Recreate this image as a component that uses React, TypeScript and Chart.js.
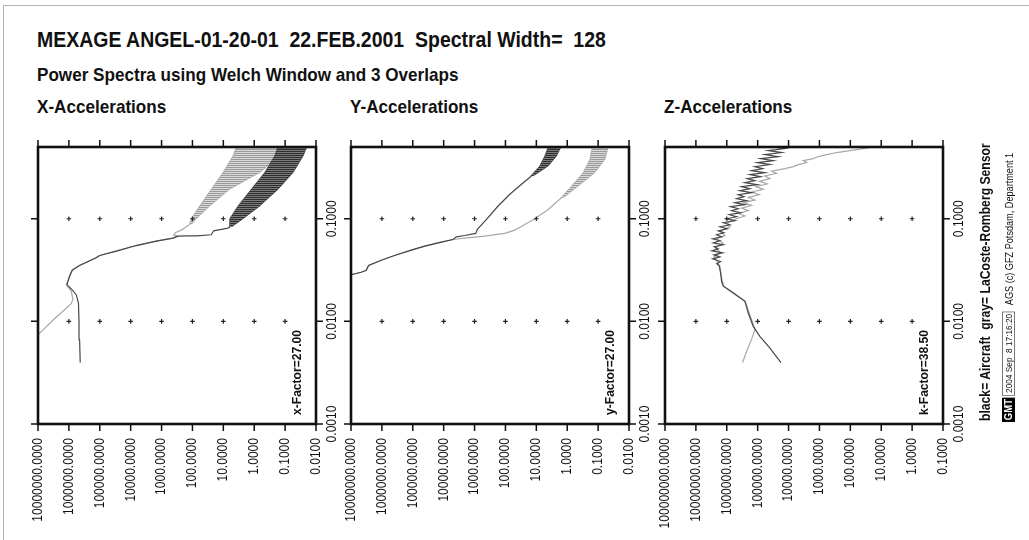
import React, { useEffect, useRef } from 'react';
import { Chart, registerables } from 'chart.js';

Chart.register(...registerables);

const FONT = '"Liberation Sans", Arial, Helvetica, sans-serif';

// ---------- texts ----------
const TITLE = 'MEXAGE ANGEL-01-20-01  22.FEB.2001  Spectral Width=  128';
const SUBTITLE = 'Power Spectra using Welch Window and 3 Overlaps';
const PANEL_TITLES = ['X-Accelerations', 'Y-Accelerations', 'Z-Accelerations'];
const FACTOR_LABELS = ['x-Factor=27.00', 'y-Factor=27.00', 'k-Factor=38.50'];
const LEGEND_NOTE = 'black= Aircraft  gray= LaCoste-Romberg Sensor';
const STAMP_LOGO = 'GMT';
const STAMP_DATE = '2004 Sep  8 17:16:20';
const STAMP_CREDIT = 'AGS (c) GFZ Potsdam, Department 1';

// ---------- axes ----------
const FREQ_MIN = 0.001;
const FREQ_MAX = 0.5;
const FREQ_TICKS = [0.001, 0.01, 0.1];
const FREQ_DOTS = [0.01, 0.1];
const POWER_TICKS_XY = [1e7, 1e6, 1e5, 1e4, 1e3, 100, 10, 1, 0.1, 0.01];
const POWER_TICKS_Z = [1e8, 1e7, 1e6, 1e5, 1e4, 1e3, 100, 10, 1, 0.1];

// ---------- X-Accelerations ----------
const X_BLACK_FREQ = [0.00397, 0.00662, 0.0100, 0.0151, 0.0182, 0.0207, 0.0228, 0.0275, 0.0315, 0.035, 0.0416, 0.0438, 0.0483, 0.0548, 0.0605, 0.0647, 0.0677, 0.0680, 0.0682, 0.0698, 0.0763, 0.0787, 0.0811, 0.0835];
const X_BLACK_POWER = [4.3e5, 4.5e5, 4.7e5, 4.9e5, 5.8e5, 8.4e5, 1.16e6, 9.5e5, 7.8e5, 4.5e5, 1.3e5, 1.01e5, 2.9e4, 6600, 1480, 428, 294, 158, 75, 24.5, 20.6, 11.6, 7.1, 6.0];
const X_GRAY_FREQ = [0.0039, 0.00683, 0.00782, 0.01024, 0.01254, 0.0149, 0.0165, 0.0196, 0.0228, 0.0275, 0.0315, 0.035, 0.0416, 0.0438, 0.0483, 0.0548, 0.0605, 0.0647, 0.0677, 0.0692, 0.0734, 0.0775, 0.0835, 0.088];
const X_GRAY_POWER = [6e7, 1.3e7, 8.3e6, 3.3e6, 1.56e6, 8.4e5, 7.4e5, 8.4e5, 1.2e6, 9.5e5, 7.8e5, 4.6e5, 1.35e5, 1.0e5, 3.0e4, 6800, 1500, 430, 300, 406, 350, 230, 158, 125];
const X_BLACK_BAND_FREQ = [0.0835, 0.1, 0.133, 0.194, 0.282, 0.409, 0.5];
const X_BLACK_BAND_HIGH = [6.55, 6.2, 3.35, 1.24, 0.458, 0.217, 0.17];
const X_BLACK_BAND_LOW = [5.37, 2.31, 0.665, 0.169, 0.0553, 0.0262, 0.02];
const X_GRAY_BAND_FREQ = [0.088, 0.1, 0.133, 0.194, 0.282, 0.409, 0.5];
const X_GRAY_BAND_HIGH = [125, 109, 58.5, 24.5, 10.3, 4.86, 3.8];
const X_GRAY_BAND_LOW = [110, 75, 27.7, 6.24, 0.665, 0.15, 0.08];

// ---------- Y-Accelerations ----------
const Y_BLACK_FREQ = [0.024, 0.0286, 0.0301, 0.0315, 0.035, 0.0394, 0.0438, 0.0494, 0.0541, 0.0592, 0.0628, 0.0667, 0.0687, 0.0719, 0.0787, 0.1023, 0.133, 0.173, 0.217, 0.261];
const Y_BLACK_POWER = [2.5e7, 9.4e6, 4.7e6, 3.2e6, 2.7e6, 1.05e6, 3.9e5, 1.12e5, 4.1e4, 1.19e4, 4980, 3880, 2080, 916, 809, 365, 173, 72, 30.3, 14.3];
const Y_GRAY_FREQ = [0.024, 0.0286, 0.0301, 0.0315, 0.035, 0.0394, 0.0438, 0.0494, 0.0541, 0.0592, 0.0628, 0.0647, 0.0677, 0.0719, 0.0775, 0.088, 0.1, 0.123, 0.16];
const Y_GRAY_POWER = [2.5e7, 9.4e6, 4.7e6, 3.2e6, 2.7e6, 1.05e6, 3.9e5, 1.12e5, 4.1e4, 1.19e4, 4980, 2080, 468, 105, 49.8, 23.6, 11.2, 4.13, 1.53];
const Y_BLACK_BAND_FREQ = [0.261, 0.327, 0.409, 0.5];
const Y_BLACK_BAND_HIGH = [15.1, 7.7, 5.3, 4.1];
const Y_BLACK_BAND_LOW = [12.7, 4.13, 2.22, 1.6];
const Y_GRAY_BAND_FREQ = [0.16, 0.208, 0.282, 0.38, 0.5];
const Y_GRAY_BAND_HIGH = [1.6, 0.72, 0.303, 0.184, 0.155];
const Y_GRAY_BAND_LOW = [1.35, 0.44, 0.127, 0.06, 0.047];

// ---------- Z-Accelerations ----------
const Z_BLACK_FREQ = [0.00397, 0.00548, 0.00713, 0.00893, 0.01205, 0.01567, 0.0189, 0.0220, 0.0246, 0.0297,
  0.0345, 0.0366, 0.0383, 0.0407, 0.0425, 0.0445, 0.0465, 0.0487, 0.0509, 0.0533,
  0.0557, 0.0583, 0.0610, 0.0638, 0.0667, 0.0698, 0.0730, 0.0763, 0.0798, 0.0835,
  0.0873, 0.0914, 0.0956, 0.1, 0.1046, 0.1094, 0.1145, 0.1197, 0.1252, 0.1310,
  0.1370, 0.1433, 0.1499, 0.1568, 0.1641, 0.1716, 0.1795, 0.1877, 0.1964, 0.2054,
  0.2149, 0.2248, 0.2351, 0.2459, 0.2572, 0.2692, 0.2815, 0.2945, 0.3081, 0.3223,
  0.3371, 0.3526, 0.3688, 0.3858, 0.4036, 0.4221, 0.4416, 0.4619, 0.4831, 0.5];
const Z_BLACK_POWER = [1.76e4, 4.0e4, 8.5e4, 1.39e5, 2.02e5, 2.59e5, 6.2e5, 1.3e6, 1.47e6, 1.59e6,
  1.75e6, 2.14e6, 1.59e6, 2.88e6, 1.67e6, 2.61e6, 1.37e6, 3.03e6, 1.89e6, 2.55e6,
  1.30e6, 2.74e6, 1.67e6, 2.88e6, 1.47e6, 2.14e6, 1.24e6, 1.89e6, 9.66e5, 1.67e6,
  7.91e5, 1.30e6, 5.45e5, 1.01e6, 4.81e5, 8.32e5, 3.57e5, 6.98e5, 4.25e5, 7.53e5,
  2.59e5, 5.45e5, 2.28e5, 4.81e5, 2.79e5, 4.25e5, 1.57e5, 3.76e5, 1.78e5, 3.32e5,
  1.03e5, 2.59e5, 1.23e5, 2.17e5, 8.04e4, 1.78e5, 5.82e4, 1.57e5, 6.92e4, 1.23e5,
  4.01e4, 1.03e5, 3.13e4, 8.04e4, 2.15e4, 5.82e4, 1.68e4, 4.54e4, 1.31e4, 3.13e4];
const Z_GRAY_FREQ = [0.00397, 0.00528, 0.00671, 0.0083, 0.00977, 0.01254, 0.01567, 0.0189, 0.0220, 0.0246,
  0.0297, 0.0344, 0.0385, 0.0425, 0.0466, 0.0521, 0.0574, 0.0638, 0.0687, 0.0757,
  0.0835, 0.0914, 0.1, 0.1062, 0.1127, 0.1197, 0.1271, 0.1350, 0.1433, 0.1522,
  0.1616, 0.1716, 0.1822, 0.1934, 0.2054, 0.2182, 0.2316, 0.2459, 0.2612, 0.2773,
  0.2901, 0.3081, 0.3223, 0.3371, 0.3526, 0.3688, 0.3858, 0.4036, 0.4221, 0.4416,
  0.4619, 0.4831, 0.5];
const Z_GRAY_POWER = [3.08e5, 2.17e5, 1.57e5, 1.23e5, 1.46e5, 1.97e5, 2.5e5, 5.9e5, 1.24e6, 1.4e6,
  1.55e6, 1.67e6, 2.04e6, 2.6e6, 1.59e6, 2.36e6, 1.3e6, 2.14e6, 1.15e6, 1.67e6,
  7.9e5, 9.7e5, 4.8e5, 2.59e5, 4.25e5, 2.02e5, 3.32e5, 1.57e5, 2.79e5, 1.23e5,
  2.02e5, 8.87e4, 1.57e5, 6.59e4, 1.14e5, 4.89e4, 8.87e4, 4.01e4, 5.82e4, 2.44e4,
  3.54e4, 1.31e4, 7.03e3, 4.84e3, 2.6e3, 3.33e3, 1.58e3, 1.09e3, 585, 277,
  103, 37.9, 18];

// ---------- layout ----------
const FRAME_LEFTS = [38, 351, 665];
const FRAME_TOP = 147;
const FRAME_W = 278;
const FRAME_H = 277;
const PAD = { left: 45, top: 20, right: 45, bottom: 116 };
const CANVAS_W = PAD.left + FRAME_W + PAD.right;
const CANVAS_H = PAD.top + FRAME_H + PAD.bottom;

const BLACK_LINE = '#484848';
const GRAY_LINE = '#a8a8a8';
const INK = '#111111';

type Band = { freq: number[]; high: number[]; low: number[]; tone: 'black' | 'gray' };
type PanelDef = {
  factor: string;
  ticks: number[];
  blackF: number[]; blackP: number[];
  grayF: number[]; grayP: number[];
  bands: Band[];
};

const PANELS: PanelDef[] = [
  {
    factor: FACTOR_LABELS[0], ticks: POWER_TICKS_XY,
    blackF: X_BLACK_FREQ, blackP: X_BLACK_POWER, grayF: X_GRAY_FREQ, grayP: X_GRAY_POWER,
    bands: [
      { freq: X_BLACK_BAND_FREQ, high: X_BLACK_BAND_HIGH, low: X_BLACK_BAND_LOW, tone: 'black' },
      { freq: X_GRAY_BAND_FREQ, high: X_GRAY_BAND_HIGH, low: X_GRAY_BAND_LOW, tone: 'gray' },
    ],
  },
  {
    factor: FACTOR_LABELS[1], ticks: POWER_TICKS_XY,
    blackF: Y_BLACK_FREQ, blackP: Y_BLACK_POWER, grayF: Y_GRAY_FREQ, grayP: Y_GRAY_POWER,
    bands: [
      { freq: Y_BLACK_BAND_FREQ, high: Y_BLACK_BAND_HIGH, low: Y_BLACK_BAND_LOW, tone: 'black' },
      { freq: Y_GRAY_BAND_FREQ, high: Y_GRAY_BAND_HIGH, low: Y_GRAY_BAND_LOW, tone: 'gray' },
    ],
  },
  {
    factor: FACTOR_LABELS[2], ticks: POWER_TICKS_Z,
    blackF: Z_BLACK_FREQ, blackP: Z_BLACK_POWER, grayF: Z_GRAY_FREQ, grayP: Z_GRAY_POWER,
    bands: [],
  },
];

function zip(p: number[], f: number[]) {
  return p.map((v, i) => ({ x: v, y: f[i] }));
}

function stripes(dark: string, light: string): CanvasPattern | string {
  const c = document.createElement('canvas');
  c.width = 4; c.height = 2;
  const g = c.getContext('2d');
  if (!g) return dark;
  g.fillStyle = light; g.fillRect(0, 0, 4, 2);
  g.fillStyle = dark; g.fillRect(0, 0, 4, 1);
  return g.createPattern(c, 'repeat') || dark;
}

function rotText(ctx: CanvasRenderingContext2D, text: string, x: number, y: number, align: CanvasTextAlign, font: string, sx: number) {
  ctx.save();
  ctx.translate(x, y);
  ctx.rotate(-Math.PI / 2);
  ctx.scale(sx, 1);
  ctx.font = font;
  ctx.textAlign = align;
  ctx.textBaseline = 'middle';
  ctx.fillText(text, 0, 0);
  ctx.restore();
}

function gmtFrame(panel: PanelDef) {
  return {
    id: 'gmtFrame',
    afterDraw(chart: any) {
      const { ctx, chartArea: a } = chart;
      const xs = chart.scales.x;
      const ys = chart.scales.y;
      const T = 7;
      ctx.save();
      ctx.strokeStyle = INK;
      ctx.lineWidth = 1.5;
      ctx.beginPath();
      for (const v of panel.ticks) {
        const px = xs.getPixelForValue(v);
        ctx.moveTo(px, a.top); ctx.lineTo(px, a.top - T);
        ctx.moveTo(px, a.bottom); ctx.lineTo(px, a.bottom + T);
      }
      for (const v of FREQ_TICKS) {
        const py = ys.getPixelForValue(v);
        ctx.moveTo(a.left, py); ctx.lineTo(a.left - T, py);
        ctx.moveTo(a.right, py); ctx.lineTo(a.right + T, py);
      }
      ctx.stroke();
      ctx.lineWidth = 2.6;
      ctx.strokeRect(a.left, a.top, a.right - a.left, a.bottom - a.top);
      ctx.fillStyle = INK;
      for (const v of panel.ticks) {
        const px = xs.getPixelForValue(v);
        rotText(ctx, v.toFixed(4), px, a.bottom + 14, 'right', `14px ${FONT}`, 0.86);
      }
      for (const v of FREQ_TICKS) {
        const py = ys.getPixelForValue(v);
        rotText(ctx, v.toFixed(4), a.right + 16.5, py, 'center', `14px ${FONT}`, 0.86);
      }
      rotText(ctx, panel.factor, a.right - 19, a.bottom - 9, 'left', `bold 13px ${FONT}`, 0.93);
      ctx.restore();
    },
  };
}

function PanelChart({ panel, left }: { panel: PanelDef; left: number }) {
  const ref = useRef<HTMLCanvasElement>(null);
  useEffect(() => {
    const canvas = ref.current;
    if (!canvas) return;
    const dots: { x: number; y: number }[] = [];
    panel.ticks.slice(1, -1).forEach((p) => FREQ_DOTS.forEach((f) => dots.push({ x: p, y: f })));
    const bandSets = panel.bands.map((b) => {
      const up = b.freq.map((f, i) => ({ x: b.high[i], y: f }));
      const down = b.freq.map((f, i) => ({ x: b.low[i], y: f })).reverse();
      const dark = b.tone === 'black';
      return {
        label: `${b.tone} band`,
        data: [...up, ...down],
        showLine: true,
        fill: 'shape',
        backgroundColor: dark ? stripes('#2e2e2e', '#7c7c7c') : stripes('#9a9a9a', '#d8d8d8'),
        borderColor: dark ? '#3a3a3a' : '#a8a8a8',
        borderWidth: 0.8,
        pointRadius: 0,
        order: 3,
      };
    });
    const chart = new Chart(canvas, {
      type: 'scatter',
      data: {
        datasets: [
          {
            label: 'grid',
            data: dots,
            showLine: false,
            pointStyle: 'cross',
            pointRadius: 2.3,
            pointBorderColor: '#222',
            pointBorderWidth: 1.2,
            order: 0,
          } as any,
          {
            label: 'Aircraft',
            data: zip(panel.blackP, panel.blackF),
            showLine: true,
            borderColor: BLACK_LINE,
            borderWidth: 1.2,
            pointRadius: 0,
            fill: false,
            order: 1,
          },
          {
            label: 'LaCoste-Romberg Sensor',
            data: zip(panel.grayP, panel.grayF),
            showLine: true,
            borderColor: GRAY_LINE,
            borderWidth: 1.2,
            pointRadius: 0,
            fill: false,
            order: 2,
          },
          ...bandSets,
        ] as any,
      },
      options: {
        animation: false,
        responsive: false,
        maintainAspectRatio: false,
        events: [],
        layout: { padding: PAD },
        plugins: { legend: { display: false }, tooltip: { enabled: false }, title: { display: false } },
        scales: {
          x: {
            type: 'logarithmic',
            min: panel.ticks[panel.ticks.length - 1],
            max: panel.ticks[0],
            reverse: true,
            display: false,
          },
          y: { type: 'logarithmic', min: FREQ_MIN, max: FREQ_MAX, display: false },
        },
      },
      plugins: [gmtFrame(panel)],
    });
    return () => chart.destroy();
  }, [panel]);
  return (
    <canvas
      ref={ref}
      width={CANVAS_W}
      height={CANVAS_H}
      style={{ position: 'absolute', left: left - PAD.left, top: FRAME_TOP - PAD.top, width: CANVAS_W, height: CANVAS_H }}
    />
  );
}

const textBase: React.CSSProperties = {
  position: 'absolute',
  fontFamily: FONT,
  fontWeight: 'bold',
  whiteSpace: 'pre',
  color: INK,
  transformOrigin: '0 0',
};

export default function App() {
  return (
    <div style={{ position: 'absolute', left: 0, top: 0, width: 1029, height: 540, background: '#fff', overflow: 'hidden' }}>
      <div style={{ position: 'absolute', left: 3, top: 5, width: 1100, height: 600, borderTop: '1px solid #b4b4b4', borderLeft: '1px solid #b4b4b4' }} />
      <div style={{ ...textBase, left: 37, top: 29, fontSize: 22, lineHeight: '22px', transform: 'scaleX(0.885)' }}>{TITLE}</div>
      <div style={{ ...textBase, left: 37, top: 65, fontSize: 19, lineHeight: '19px', transform: 'scaleX(0.9)' }}>{SUBTITLE}</div>
      {PANEL_TITLES.map((t, i) => (
        <div key={t} style={{ ...textBase, left: FRAME_LEFTS[i] - 1, top: 97, fontSize: 19, lineHeight: '19px', transform: 'scaleX(0.9)' }}>{t}</div>
      ))}
      {PANELS.map((p, i) => (
        <PanelChart key={i} panel={p} left={FRAME_LEFTS[i]} />
      ))}
      <div style={{ ...textBase, left: 977, top: 421, fontSize: 14.5, lineHeight: '16px', transform: 'rotate(-90deg) scaleX(0.84)' }}>{LEGEND_NOTE}</div>
      <div style={{ ...textBase, left: 1002, top: 422, fontWeight: 'normal', display: 'flex', alignItems: 'center', height: 13, transform: 'rotate(-90deg) scaleX(0.87)' }}>
        <span style={{ background: '#000', color: '#fff', fontWeight: 'bold', fontSize: 11, lineHeight: '13px', padding: '0 2px' }}>{STAMP_LOGO}</span>
        <span style={{ border: '1px solid #777', fontSize: 9.5, lineHeight: '11px', padding: '0 2px', marginLeft: 2 }}>{STAMP_DATE}</span>
        <span style={{ fontSize: 10.5, lineHeight: '12px', marginLeft: 7 }}>{STAMP_CREDIT}</span>
      </div>
    </div>
  );
}
